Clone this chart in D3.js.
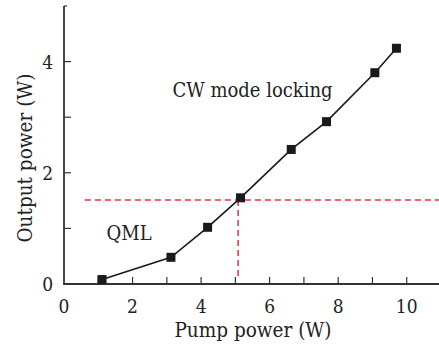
<!DOCTYPE html>
<html><head><meta charset="utf-8">
<script src="https://cdn.jsdelivr.net/npm/d3@7"></script>
<style>body{margin:0;background:#fff}svg{display:block}text{font-stretch:condensed}</style>
</head><body>
<script>
const pumpPower = [1.11, 3.12, 4.19, 5.15, 6.63, 7.66, 9.07, 9.70];
const outputPower = [0.08, 0.48, 1.02, 1.55, 2.42, 2.92, 3.80, 4.24];
const xTicks = [0, 2, 4, 6, 8, 10];
const yTicks = [0, 2, 4];
const thresholdY = 1.51;
const thresholdX = 5.08;
const thresholdXStart = 0.61;
const labels = [{text: "CW mode locking", x: 5.5, y: 3.36}, {text: "QML", x: 1.9, y: 0.79}];

const W = 439, H = 347;
const svg = d3.select("body").append("svg").attr("width", W).attr("height", H);
const x = d3.scaleLinear().domain([0, 11]).range([64, 441]);
const y = d3.scaleLinear().domain([0, 5]).range([284, 6]);
const font = "DejaVu Serif";
const axisColor = "#333";

// axes lines
svg.append("line").attr("x1", x(0)).attr("x2", W).attr("y1", y(0)).attr("y2", y(0))
  .attr("stroke", axisColor).attr("stroke-width", 1.8);
svg.append("line").attr("x1", x(0)).attr("x2", x(0)).attr("y1", y(0)+1).attr("y2", y(5))
  .attr("stroke", axisColor).attr("stroke-width", 1.8);

// minor/major ticks (inward)
svg.selectAll(".xt").data(d3.range(1, 11)).join("line")
  .attr("x1", d => x(d)).attr("x2", d => x(d)).attr("y1", y(0)).attr("y2", y(0) - 7)
  .attr("stroke", axisColor).attr("stroke-width", 1.2);
svg.selectAll(".yt").data(d3.range(1, 6)).join("line")
  .attr("y1", d => y(d)).attr("y2", d => y(d)).attr("x1", x(0)).attr("x2", d => x(0) + (d === 5 ? 3 : 7))
  .attr("stroke", axisColor).attr("stroke-width", 1.2);

// tick labels
svg.selectAll(".xl").data(xTicks).join("text")
  .attr("x", d => x(d)).attr("y", 313).attr("text-anchor", "middle")
  .attr("font-family", font).attr("font-size", 19).attr("fill", "#222").text(d => d);
svg.selectAll(".yl").data(yTicks).join("text")
  .attr("x", 53).attr("y", d => y(d) + 7).attr("text-anchor", "end")
  .attr("font-family", font).attr("font-size", 19).attr("fill", "#222").text(d => d);

// axis titles
svg.append("text").attr("x", 253).attr("y", 337).attr("text-anchor", "middle")
  .attr("font-family", font).attr("font-size", 20.5).attr("fill", "#222").text("Pump power (W)");
svg.append("text").attr("transform", "translate(32,158) rotate(-90)").attr("text-anchor", "middle")
  .attr("font-family", font).attr("font-size", 20.5).attr("fill", "#222").text("Output power (W)");

// dashed red threshold lines
svg.append("line").attr("x1", x(thresholdXStart)).attr("x2", W).attr("y1", y(thresholdY)).attr("y2", y(thresholdY))
  .attr("stroke", "#e8323c").attr("stroke-width", 1.5).attr("stroke-dasharray", "6,4");
svg.append("line").attr("x1", x(thresholdX)).attr("x2", x(thresholdX)).attr("y1", y(thresholdY)).attr("y2", y(0.1))
  .attr("stroke", "#e8323c").attr("stroke-width", 1.5).attr("stroke-dasharray", "6,4");

// data line
const pts = pumpPower.map((p, i) => [p, outputPower[i]]);
svg.append("path").datum(pts)
  .attr("d", d3.line().x(d => x(d[0])).y(d => y(d[1])))
  .attr("fill", "none").attr("stroke", "#1a1a1a").attr("stroke-width", 1.6);
svg.selectAll(".pt").data(pts).join("rect")
  .attr("x", d => x(d[0]) - 4.5).attr("y", d => y(d[1]) - 4.5)
  .attr("width", 9).attr("height", 9).attr("fill", "#1a1a1a");

// annotations
svg.selectAll(".lab").data(labels).join("text")
  .attr("x", d => x(d.x)).attr("y", d => y(d.y)).attr("text-anchor", "middle")
  .attr("font-family", font).attr("font-size", 20).attr("fill", "#222").text(d => d.text);
</script>
</body></html>
